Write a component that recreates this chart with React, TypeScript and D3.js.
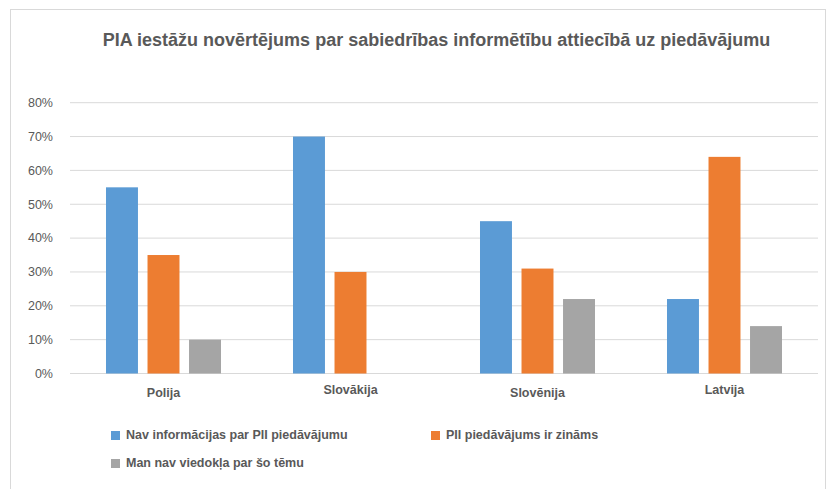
import React from "react";
import * as d3 from "d3";

const categories = ["Polija", "Slovākija", "Slovēnija", "Latvija"];
const seriesNames = [
  "Nav informācijas par PII piedāvājumu",
  "PII piedāvājums ir zināms",
  "Man nav viedokļa par šo tēmu",
];
const navInformacijas = [0.55, 0.70, 0.45, 0.22];
const piiZinams = [0.35, 0.30, 0.31, 0.64];
const navViedokla = [0.10, 0, 0.22, 0.14];
const yTicks = [0, 0.1, 0.2, 0.3, 0.4, 0.5, 0.6, 0.7, 0.8];
const colors = ["#5b9bd5", "#ed7d31", "#a5a5a5"];
const title =
  "PIA iestāžu novērtējums par sabiedrības informētību attiecībā uz piedāvājumu";

const W = 827;
const H = 489;

export default function App() {
  const seriesValues = [navInformacijas, piiZinams, navViedokla];
  const x0 = d3
    .scaleBand<string>()
    .domain(categories)
    .range([70, 818])
    .paddingInner(0.385)
    .paddingOuter(0.1925);
  const x1 = d3
    .scaleBand<string>()
    .domain(seriesNames)
    .range([0, x0.bandwidth()])
    .paddingInner(0.23)
    .paddingOuter(0);
  const y = d3.scaleLinear().domain([0, 0.8]).range([373.5, 102.7]);
  const fmt = d3.format(".0%");
  const textColor = "#595959";
  const font = "Liberation Sans, Arial, sans-serif";

  const legendItems = [
    { i: 0, x: 111, y: 431 },
    { i: 1, x: 431, y: 431 },
    { i: 2, x: 111, y: 459 },
  ];

  return (
    <svg
      width={W}
      height={H}
      style={{ position: "absolute", left: 0, top: 0, display: "block" }}
      fontFamily={font}
    >
      <rect x={0} y={0} width={W} height={H} fill="#ffffff" />
      <rect
        x={10.5}
        y={9.5}
        width={W - 12}
        height={H - 9}
        fill="none"
        stroke="#d9d9d9"
        strokeWidth={1}
      />
      <text
        x={436.5}
        y={46}
        textAnchor="middle"
        fontSize={18}
        fontWeight="bold"
        fill={textColor}
      >
        {title}
      </text>
      {yTicks.map((t) => (
        <g key={t}>
          <line
            x1={70}
            x2={818}
            y1={y(t)}
            y2={y(t)}
            stroke="#d9d9d9"
            strokeWidth={1}
          />
          <text
            x={53}
            y={y(t)}
            dy="0.35em"
            textAnchor="end"
            fontSize={12.5}
            fill={textColor}
          >
            {fmt(t)}
          </text>
        </g>
      ))}
      {categories.map((c, ci) => (
        <g key={c} transform={`translate(${x0(c)},0)`}>
          {seriesNames.map((s, si) => {
            const v = seriesValues[si][ci];
            if (!v) return null;
            return (
              <rect
                key={s}
                x={x1(s)}
                y={y(v)}
                width={x1.bandwidth()}
                height={y(0) - y(v)}
                fill={colors[si]}
              />
            );
          })}
          <text
            x={x0.bandwidth() / 2}
            y={ci % 2 === 0 ? 397 : 394}
            textAnchor="middle"
            fontSize={12.5}
            fontWeight="bold"
            fill={textColor}
          >
            {c}
          </text>
        </g>
      ))}
      {legendItems.map(({ i, x, y: ly }) => (
        <g key={i}>
          <rect x={x} y={ly} width={9} height={9} fill={colors[i]} />
          <text
            x={x + 15}
            y={ly + 8}
            fontSize={12.5}
            fontWeight="bold"
            fill={textColor}
          >
            {seriesNames[i]}
          </text>
        </g>
      ))}
    </svg>
  );
}
